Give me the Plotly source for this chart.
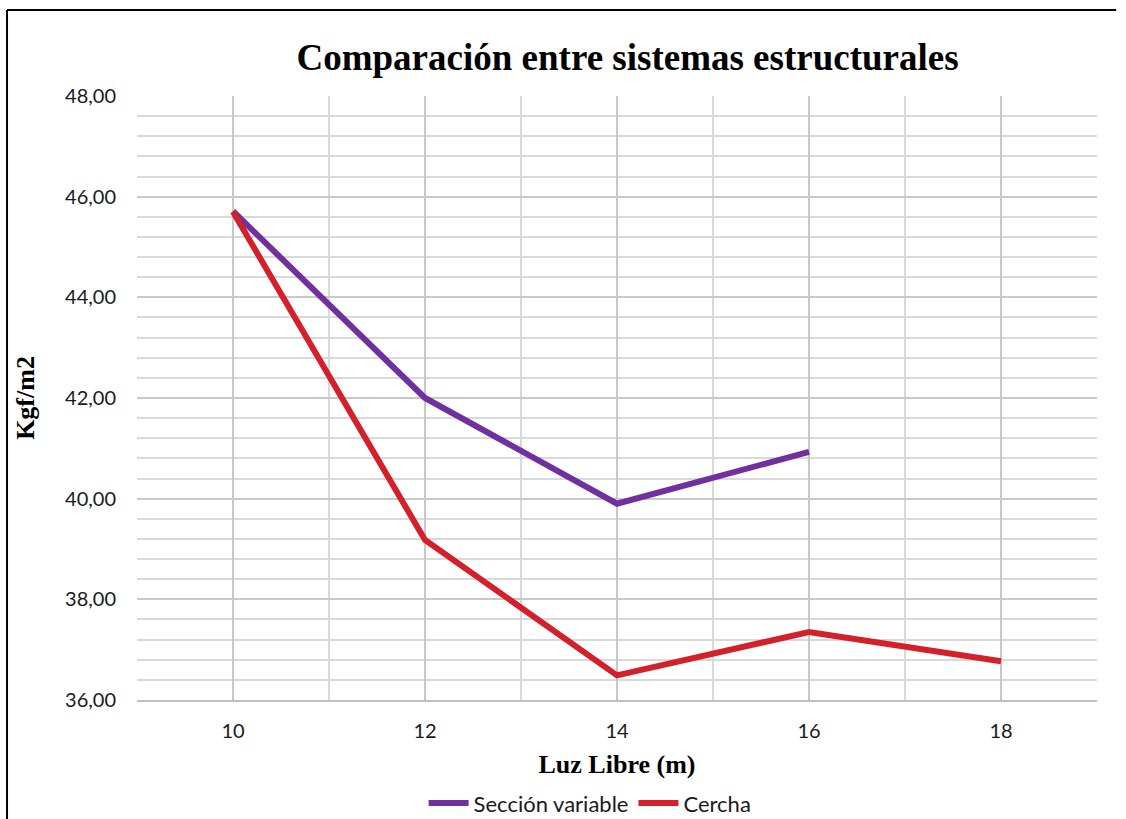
import plotly.graph_objects as go

# Luz libre (m) y peso por sistema estructural (kgf/m2)
luz_seccion = [10, 12, 14, 16]
peso_seccion = [45.71, 42.00, 39.90, 40.93]

luz_cercha = [10, 12, 14, 16, 18]
peso_cercha = [45.70, 39.18, 36.49, 37.35, 36.77]

x_ticks = [10, 12, 14, 16, 18]

fig = go.Figure()
fig.add_trace(go.Scatter(
    x=luz_seccion, y=peso_seccion, mode="lines", name="Sección variable",
    line=dict(color="#7030A0", width=6),
))
fig.add_trace(go.Scatter(
    x=luz_cercha, y=peso_cercha, mode="lines", name="Cercha",
    line=dict(color="#D3202A", width=6),
))

tick_font = dict(family="Lato, 'Noto Sans', sans-serif", size=20, color="#1a1a1a")
title_font = dict(family="'Liberation Serif', 'Times New Roman', serif", size=26, color="black")

# frame around the chart (left and top edges)
frame = dict(color="black", width=2)
shapes = [
    dict(type="line", xref="paper", yref="paper",
         x0=-0.1354, x1=-0.1354, y0=-0.25, y1=1.1424, line=frame, layer="above"),
    dict(type="line", xref="paper", yref="paper",
         x0=-0.1354, x1=1.02, y0=1.1424, y1=1.1424, line=frame, layer="above"),
]

fig.update_layout(
    width=1126, height=819,
    margin=dict(l=137, r=29, t=96, b=119, autoexpand=False),
    paper_bgcolor="white", plot_bgcolor="white",
    separators=",.",
    title=dict(
        text="<b>Comparación entre sistemas estructurales</b>",
        font=dict(family="'Liberation Serif', 'Times New Roman', serif", size=37, color="black"),
        x=0.511, xanchor="center", xref="paper", y=0.93, yanchor="middle",
    ),
    xaxis=dict(
        range=[9, 19], tickvals=x_ticks, ticktext=[str(v) for v in x_ticks],
        showgrid=True, gridcolor="#C8C8C8", gridwidth=1.5,
        minor=dict(dtick=1, tick0=9, showgrid=True, gridcolor="#D9D9D9", gridwidth=1.5),
        showline=True, linecolor="#BFBFBF", linewidth=2, mirror=False,
        zeroline=False, ticks="", ticklabelstandoff=12, tickfont=tick_font,
        title=dict(text="<b>Luz Libre (m)</b>", font=title_font, standoff=14),
    ),
    yaxis=dict(
        range=[36, 48], dtick=2, tick0=36, tickformat=".2f",
        showgrid=True, gridcolor="#C8C8C8", gridwidth=1.5,
        minor=dict(dtick=0.4, tick0=36, showgrid=True, gridcolor="#D9D9D9", gridwidth=1.5),
        showline=False, zeroline=False, ticks="", ticklabelstandoff=20,
        tickfont=tick_font,
        title=dict(text="<b>Kgf/m2</b>", font=title_font, standoff=22),
    ),
    legend=dict(
        orientation="h", x=0.472, xanchor="center", y=-0.171, yanchor="middle",
        font=dict(family="Lato, 'Noto Sans', sans-serif", size=22, color="#1a1a1a"),
        bgcolor="rgba(0,0,0,0)", itemwidth=40, tracegroupgap=0,
    ),
    showlegend=True,
    shapes=shapes,
)

fig.write_html("out.html")
